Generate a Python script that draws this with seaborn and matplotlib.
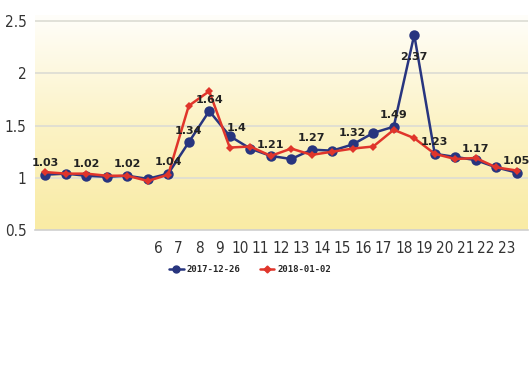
import numpy as np
import pandas as pd
import matplotlib
matplotlib.use("Agg")
import matplotlib.pyplot as plt
import seaborn as sns
from matplotlib.colors import LinearSegmentedColormap

# hourly values
hours = list(range(24))
dec26 = [1.03, 1.04, 1.02, 1.01, 1.02, 0.99, 1.04, 1.34, 1.64, 1.40, 1.28, 1.21,
         1.18, 1.27, 1.26, 1.32, 1.43, 1.49, 2.37, 1.23, 1.20, 1.17, 1.10, 1.05]
jan02 = [1.055, 1.04, 1.04, 1.02, 1.02, 0.97, 1.03, 1.69, 1.83, 1.29, 1.30, 1.21,
         1.28, 1.22, 1.25, 1.28, 1.30, 1.46, 1.38, 1.23, 1.18, 1.19, 1.10, 1.07]
series_names = ["2017-12-26", "2018-01-02"]
labelled = [0, 2, 4, 6, 7, 8, 9, 11, 13, 15, 17, 18, 19, 21, 23]
tick_hours = list(range(6, 24))
y_ticks = [0.5, 1, 1.5, 2, 2.5]

sns.set_theme(style="white")
plt.rcParams['font.family'] = ['DejaVu Sans']

df = pd.DataFrame({
    "x": [h + 0.5 for h in hours] * 2,
    "value": dec26 + jan02,
    "date": [series_names[0]] * 24 + [series_names[1]] * 24,
})

fig = plt.figure(figsize=(5.3, 3.84), dpi=100)
ax = fig.add_axes([35 / 530, 1 - 230 / 384, 493 / 530, 215 / 384])

# yellow gradient background
cmap = LinearSegmentedColormap.from_list("bg", ["#fffefa", "#fcf3c6", "#f9eba4"])
grad = np.linspace(0, 1, 256).reshape(-1, 1)
ax.imshow(grad, aspect="auto", cmap=cmap, extent=[0, 24.05, 0.5, 2.56],
          origin="upper", zorder=0)

for yv in [1, 1.5, 2, 2.5]:
    ax.axhline(yv, color="#dcdcd4", lw=1.2, zorder=1)

palette = {series_names[0]: "#28357f", series_names[1]: "#e0352b"}
sns.lineplot(data=df[df.date == series_names[0]], x="x", y="value", color=palette[series_names[0]],
             marker="o", markersize=7.5, markeredgewidth=0, lw=1.8, ax=ax, zorder=3)
sns.lineplot(data=df[df.date == series_names[1]], x="x", y="value", color=palette[series_names[1]],
             marker="D", markersize=4.5, markeredgewidth=0, lw=1.8, ax=ax, zorder=4)

# value labels on the 2017-12-26 series
for i in labelled:
    v = dec26[i]
    txt = f"{v:g}"
    if i == 18:
        off = (0, -18)
    elif i == 9:
        off = (5, 4)
    else:
        off = (0, 6)
    ax.annotate(txt, (i + 0.5, v), xytext=off, textcoords="offset points",
                ha="center", fontsize=8, fontweight="bold", color="#222222", zorder=5)

ax.set_xlim(0, 24.05)
ax.set_ylim(0.5, 2.56)
ax.set_xticks(range(0, 25))
ax.set_xticklabels([str(k) if k in tick_hours else "" for k in range(0, 25)])
ax.set_yticks(y_ticks)
ax.set_yticklabels([f"{t:g}" for t in y_ticks])
ax.tick_params(axis="x", length=5, color="#c8c8c8", pad=3, labelsize=11, labelcolor="#333333", direction="out")
ax.tick_params(axis="y", length=0, labelsize=11, labelcolor="#333333", pad=6)
for lbl in ax.get_xticklabels() + ax.get_yticklabels():
    lbl.set_fontstretch("condensed")
ax.set_xlabel("")
ax.set_ylabel("")
for s in ["top", "right", "left"]:
    ax.spines[s].set_visible(False)
ax.spines["bottom"].set_color("#d0d0d0")
ax.spines["bottom"].set_linewidth(1.2)

handles = [
    plt.Line2D([], [], color=palette[series_names[0]], marker="o", markersize=5, lw=1.8),
    plt.Line2D([], [], color=palette[series_names[1]], marker="D", markersize=3.5, lw=1.8),
]
fig.legend(handles, series_names, loc="center", bbox_to_anchor=(250 / 530, 1 - 270 / 384),
           ncol=2, frameon=False, handlelength=1.6, handletextpad=0.3, columnspacing=2.2,
           prop={"family": "DejaVu Sans Mono", "weight": "bold", "size": 6.5})

fig.savefig("out.png", dpi=100)
